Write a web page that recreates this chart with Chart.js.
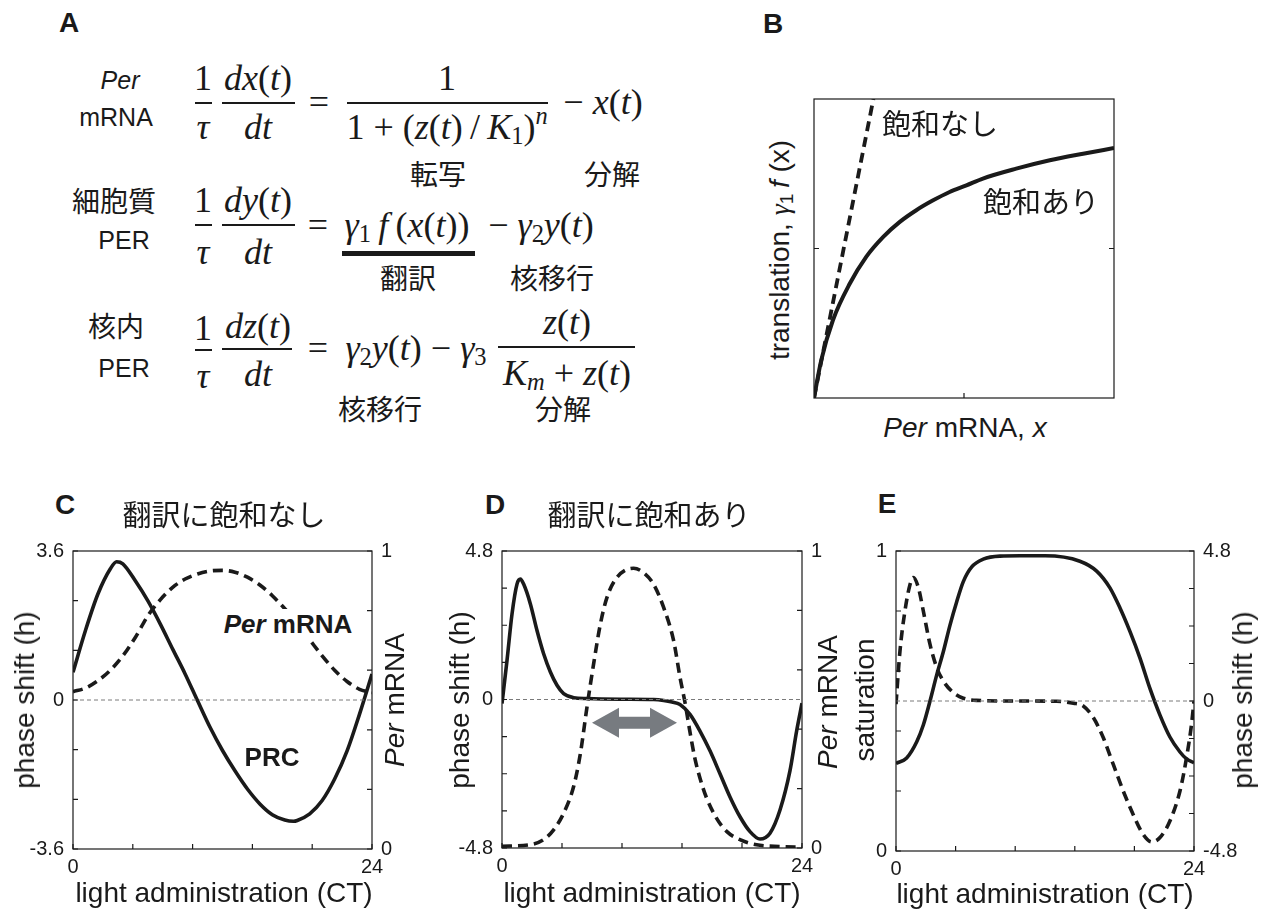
<!DOCTYPE html>
<html>
<head>
<meta charset="utf-8">
<script src="https://cdn.jsdelivr.net/npm/chart.js@4.4.1/dist/chart.umd.min.js"></script>
<style>
  body { margin: 0; background: #fff; }
  #page { position: relative; width: 1261px; height: 913px; overflow: hidden;
          font-family: "Liberation Sans", Arial, sans-serif; color: #1a1a1a; }
  .t { position: absolute; white-space: nowrap; line-height: 1; transform: translate(-50%, -50%); }
  .v { transform: translate(-50%, -50%) rotate(-90deg); }
  .jp { font-family: "Noto Sans CJK JP", sans-serif; font-size: 28px; }
  .hd { font-family: "Noto Sans CJK JP", sans-serif; font-size: 29px; }
  .m { font-family: "Liberation Serif", "Times New Roman", serif; font-size: 36px; }
  .lb { font-size: 25px; }
  .ax { font-size: 28px; }
  .pn { font-weight: bold; font-size: 28px; }
  .tag { font-weight: bold; font-size: 26px; }
  .sub { font-size: .68em; vertical-align: -.22em; line-height: 0; }
  .sup { font-size: .68em; vertical-align: .6em; line-height: 0; }
  .bar { position: absolute; background: #1a1a1a; }
  canvas { position: absolute; }
</style>
</head>
<body>
<div id="page">
  <canvas id="chartB" width="316" height="315" style="left:806px;top:91px"></canvas>
  <canvas id="chartC" width="420" height="370" style="left:0px;top:530px"></canvas>
  <canvas id="chartD" width="420" height="370" style="left:420px;top:530px"></canvas>
  <canvas id="chartE" width="421" height="370" style="left:840px;top:530px"></canvas>
</div>
<script>
// ---- B: translation vs Per mRNA
const bMrna = [0, 0.024, 0.063, 0.119, 0.174, 0.230, 0.286, 0.341, 0.397, 0.452, 0.508, 0.563, 0.674, 0.786, 0.897, 1];
const bSaturated = [0, 0.126, 0.260, 0.382, 0.472, 0.538, 0.589, 0.628, 0.661, 0.689, 0.711, 0.734, 0.767, 0.795, 0.817, 0.836];
const bLinearX = [0, 0.198];
const bLinearY = [0, 1];

// ---- C: no saturation
const cPrcHours = [0, 1, 2, 3, 3.5, 4, 5, 6, 7, 8, 9, 10, 11, 12, 13, 14, 15, 16, 17, 17.7, 18, 19, 20, 21, 22, 23, 24];
const cPrc = [0.67, 1.68, 2.56, 3.17, 3.34, 3.29, 2.88, 2.40, 1.84, 1.23, 0.63, -0.02, -0.66, -1.22, -1.71, -2.15, -2.51, -2.77, -2.90, -2.93, -2.91, -2.75, -2.43, -1.91, -1.23, -0.34, 0.63];
const cMrnaHours = [0, 1, 2, 3, 4, 5, 6, 7, 8, 9, 10, 11, 12, 13, 14, 15, 16, 17, 18, 19, 20, 21, 22, 23, 24];
const cMrna = [0.528, 0.540, 0.565, 0.600, 0.648, 0.710, 0.782, 0.836, 0.878, 0.906, 0.923, 0.933, 0.935, 0.929, 0.912, 0.886, 0.850, 0.806, 0.756, 0.702, 0.648, 0.600, 0.562, 0.536, 0.525];

// ---- D: with saturation
const dPrcHours = [0, 0.4, 0.8, 1.2, 1.47, 1.73, 2.27, 2.8, 3.33, 3.87, 4.4, 4.93, 5.73, 6.8, 9.47, 12.13, 12.93, 13.6, 14.24, 15.04, 15.84, 16.64, 17.44, 18.24, 19.04, 19.84, 20.64, 21.44, 22.24, 23.04, 23.57, 24];
const dPrc = [-0.13, 1.26, 2.76, 3.73, 3.89, 3.73, 3.09, 2.23, 1.48, 0.89, 0.46, 0.19, 0.06, 0.03, 0.01, 0, -0.03, -0.08, -0.16, -0.48, -1.02, -1.66, -2.4, -3.15, -3.79, -4.27, -4.51, -4.32, -3.57, -2.3, -1.02, -0.12];
const dMrnaHours = [0, 2.27, 3.33, 4.13, 4.93, 5.73, 6.27, 6.8, 7.33, 7.87, 8.4, 9.2, 10.53, 11.33, 12.13, 12.93, 13.73, 14.24, 14.64, 15.04, 15.44, 15.84, 16.37, 17.17, 17.97, 19.04, 20.37, 22.24, 24];
const dMrna = [0.006, 0.011, 0.028, 0.061, 0.117, 0.207, 0.318, 0.475, 0.620, 0.754, 0.844, 0.911, 0.942, 0.927, 0.888, 0.810, 0.698, 0.575, 0.490, 0.390, 0.300, 0.235, 0.168, 0.100, 0.056, 0.028, 0.011, 0.005, 0.003];
const dArrow = { from: 7.2, to: 14.0, y: -0.75 };

// ---- E: saturation level and PRC
const eSatHours = [0, 0.86, 1.67, 2.2, 2.74, 3.28, 3.81, 4.35, 4.89, 5.42, 6.1, 7.03, 8.37, 9.98, 12, 14.81, 16.16, 17.23, 18.04, 18.84, 19.65, 20.45, 21.26, 22.06, 22.87, 23.4, 24];
const eSat = [0.292, 0.31, 0.364, 0.42, 0.5, 0.587, 0.664, 0.753, 0.831, 0.898, 0.947, 0.973, 0.983, 0.984, 0.984, 0.966, 0.933, 0.877, 0.81, 0.732, 0.643, 0.542, 0.453, 0.38, 0.33, 0.307, 0.294];
const ePrcHours = [0, 0.32, 0.72, 1.13, 1.39, 1.8, 2.2, 2.74, 3.28, 3.81, 4.61, 5.42, 6.5, 9.5, 12.95, 14.29, 15.08, 15.89, 16.69, 17.5, 18.3, 19.1, 19.91, 20.59, 21.26, 22.06, 22.87, 23.4, 23.8, 24];
const ePrc = [-0.1, 1.6, 2.88, 3.73, 3.95, 3.63, 2.88, 1.81, 1.07, 0.64, 0.27, 0.09, 0.02, 0, -0.01, -0.07, -0.16, -0.53, -1.17, -2.03, -2.88, -3.63, -4.27, -4.51, -4.37, -3.84, -2.88, -1.81, -0.75, 0];

// ---- ticks
const hourTicks = [0, 4.8, 9.6, 14.4, 19.2, 24];
const hourLabels = [0, 24];
const shift36Ticks = [-3.6, -2.4, -1.2, 0, 1.2, 2.4, 3.6];
const shift36Labels = [-3.6, 0, 3.6];
const shift48Ticks = [-4.8, -3.6, -2.4, -1.2, 0, 1.2, 2.4, 3.6, 4.8];
const shift48Labels = [-4.8, 0, 4.8];
const unitTicks = [0, 0.2, 0.4, 0.6, 0.8, 1];
const unitLabels = [0, 1];

const INK = "#1a1a1a";
const TICK_FONT = { family: "Liberation Sans", size: 20 };

// frame box with inward tick marks
const framePlugin = {
  id: "frame",
  afterDatasetsDraw(chart, args, opts) {
    const { ctx, chartArea: a, scales } = chart;
    const len = 5;
    ctx.save();
    ctx.strokeStyle = INK;
    ctx.lineWidth = 1.2;
    ctx.setLineDash([]);
    ctx.strokeRect(a.left, a.top, a.right - a.left, a.bottom - a.top);
    ctx.beginPath();
    (opts.x || []).forEach((v) => {
      const px = scales.x.getPixelForValue(v);
      ctx.moveTo(px, a.bottom);
      ctx.lineTo(px, a.bottom - len);
    });
    (opts.y || []).forEach((v) => {
      const py = scales.y.getPixelForValue(v);
      ctx.moveTo(a.left, py);
      ctx.lineTo(a.left + len, py);
      if (opts.mirror) {
        ctx.moveTo(a.right, py);
        ctx.lineTo(a.right - len, py);
      }
    });
    (opts.y2 || []).forEach((v) => {
      const py = scales.y2.getPixelForValue(v);
      ctx.moveTo(a.right, py);
      ctx.lineTo(a.right - len, py);
    });
    ctx.stroke();
    ctx.restore();
  },
};

// grey double-headed arrow (panel D)
const arrowPlugin = {
  id: "arrow",
  afterDatasetsDraw(chart, args, opts) {
    if (opts.from === undefined) return;
    const { ctx, scales } = chart;
    const x1 = scales.x.getPixelForValue(opts.from);
    const x2 = scales.x.getPixelForValue(opts.to);
    const y = scales.y.getPixelForValue(opts.y);
    const head = 27, hh = 15, sh = 6;
    ctx.save();
    ctx.fillStyle = "#777b80";
    ctx.beginPath();
    ctx.moveTo(x1, y);
    ctx.lineTo(x1 + head, y - hh);
    ctx.lineTo(x1 + head, y - sh);
    ctx.lineTo(x2 - head, y - sh);
    ctx.lineTo(x2 - head, y - hh);
    ctx.lineTo(x2, y);
    ctx.lineTo(x2 - head, y + hh);
    ctx.lineTo(x2 - head, y + sh);
    ctx.lineTo(x1 + head, y + sh);
    ctx.lineTo(x1 + head, y + hh);
    ctx.closePath();
    ctx.fill();
    ctx.restore();
  },
};

function series(xs, ys, axis, dashed, width) {
  return {
    data: xs.map((x, i) => ({ x: x, y: ys[i] })),
    yAxisID: axis,
    borderColor: INK,
    borderWidth: width || 3.6,
    borderDash: dashed ? [10, 6] : [],
    pointRadius: 0,
    fill: false,
    cubicInterpolationMode: "monotone",
  };
}

function zeroLine(axis, level) {
  return {
    data: [{ x: 0, y: level }, { x: 24, y: level }],
    yAxisID: axis,
    borderColor: "#7a7a7a",
    borderWidth: 1,
    borderDash: [4, 3],
    pointRadius: 0,
  };
}

function axisX(labels, height) {
  return {
    type: "linear", position: "bottom", min: 0, max: 24,
    afterBuildTicks: (s) => { s.ticks = labels.map((v) => ({ value: v })); },
    afterFit: (s) => { s.height = height; },
    ticks: { callback: (v) => String(v), font: TICK_FONT, color: INK, padding: 6, autoSkip: false, maxRotation: 0 },
    grid: { display: false, drawTicks: false },
    border: { display: false },
  };
}

function axisY(pos, min, max, labels, width) {
  return {
    type: "linear", position: pos, min: min, max: max,
    afterBuildTicks: (s) => { s.ticks = labels.map((v) => ({ value: v })); },
    afterFit: (s) => { s.width = width; },
    ticks: { callback: (v) => String(v), font: TICK_FONT, color: INK, padding: 9, autoSkip: false },
    grid: { display: false, drawTicks: false },
    border: { display: false },
  };
}

const common = {
  responsive: false,
  animation: false,
  events: [],
};

new Chart(document.getElementById("chartB"), {
  type: "line",
  data: {
    datasets: [
      series(bLinearX, bLinearY, "y", true, 3.8),
      series(bMrna, bSaturated, "y", false, 4),
    ],
  },
  options: {
    ...common,
    layout: { padding: 8 },
    scales: {
      x: { type: "linear", min: 0, max: 1, display: false },
      y: { type: "linear", min: 0, max: 1, display: false },
    },
    plugins: { legend: { display: false }, tooltip: { enabled: false },
      frame: { x: [0.5], y: [0.5], mirror: true } },
  },
  plugins: [framePlugin],
});

new Chart(document.getElementById("chartC"), {
  type: "line",
  data: {
    datasets: [
      zeroLine("y", 0),
      series(cMrnaHours, cMrna, "y2", true),
      series(cPrcHours, cPrc, "y", false),
    ],
  },
  options: {
    ...common,
    layout: { padding: { top: 21, left: 0, right: 0, bottom: 0 } },
    scales: {
      x: axisX(hourLabels, 51),
      y: axisY("left", -3.6, 3.6, shift36Labels, 73),
      y2: axisY("right", 0, 1, unitLabels, 48),
    },
    plugins: { legend: { display: false }, tooltip: { enabled: false },
      frame: { x: hourTicks, y: shift36Ticks, y2: unitTicks } },
  },
  plugins: [framePlugin],
});

new Chart(document.getElementById("chartD"), {
  type: "line",
  data: {
    datasets: [
      zeroLine("y", 0),
      series(dMrnaHours, dMrna, "y2", true),
      series(dPrcHours, dPrc, "y", false),
    ],
  },
  options: {
    ...common,
    layout: { padding: { top: 20, left: 0, right: 0, bottom: 0 } },
    scales: {
      x: axisX(hourLabels, 52),
      y: axisY("left", -4.8, 4.8, shift48Labels, 82),
      y2: axisY("right", 0, 1, unitLabels, 38),
    },
    plugins: { legend: { display: false }, tooltip: { enabled: false },
      frame: { x: hourTicks, y: shift48Ticks, y2: unitTicks },
      arrow: dArrow },
  },
  plugins: [framePlugin, arrowPlugin],
});

new Chart(document.getElementById("chartE"), {
  type: "line",
  data: {
    datasets: [
      zeroLine("y2", 0),
      series(ePrcHours, ePrc, "y2", true),
      series(eSatHours, eSat, "y", false),
    ],
  },
  options: {
    ...common,
    layout: { padding: { top: 21, left: 0, right: 0, bottom: 0 } },
    scales: {
      x: axisX(hourLabels, 49),
      y: axisY("left", 0, 1, unitLabels, 56),
      y2: axisY("right", -4.8, 4.8, shift48Labels, 67),
    },
    plugins: { legend: { display: false }, tooltip: { enabled: false },
      frame: { x: hourTicks, y: unitTicks, y2: shift48Ticks } },
  },
  plugins: [framePlugin],
});

// ---- text layer
const page = document.getElementById("page");
function put(html, x, y, cls, style) {
  const el = document.createElement("div");
  el.className = "t " + (cls || "");
  el.innerHTML = html;
  el.style.left = x + "px";
  el.style.top = y + "px";
  if (style) Object.assign(el.style, style);
  page.appendChild(el);
}
function rule(x1, x2, y, h) {
  const el = document.createElement("div");
  el.className = "bar";
  el.style.left = x1 + "px";
  el.style.width = (x2 - x1) + "px";
  el.style.top = (y - h / 2) + "px";
  el.style.height = h + "px";
  page.appendChild(el);
}

// panel letters
put("A", 69, 23, "pn");
put("B", 773, 24, "pn");
put("C", 65, 505, "pn");
put("D", 495, 505, "pn");
put("E", 887, 504, "pn");

// panel A: equations
put("<i>Per</i>", 120, 80, "lb");
put("mRNA", 116, 117, "lb");
put("1", 203, 78, "m"); rule(195, 212, 103, 2.5); put("<i>τ</i>", 203, 127, "m");
put("<i>dx</i>(<i>t</i>)", 258, 78, "m"); rule(222, 295, 103, 2.5); put("<i>dt</i>", 258, 127, "m");
put("=", 319, 102, "m");
put("1", 447, 78, "m"); rule(347, 548, 103, 2.5);
put("1&nbsp;+&nbsp;(<i>z</i>(<i>t</i>)&thinsp;/&thinsp;<i>K</i><span class=\"sub\">1</span>)<span class=\"sup\"><i>n</i></span>", 447, 127, "m");
put("− <i>x</i>(<i>t</i>)", 603, 102, "m");
put("転写", 438, 173, "jp");
put("分解", 612, 173, "jp");

put("細胞質", 114, 200, "jp");
put("PER", 124, 240, "lb");
put("1", 203, 200, "m"); rule(195, 212, 225, 2.5); put("<i>τ</i>", 203, 252, "m");
put("<i>dy</i>(<i>t</i>)", 258, 200, "m"); rule(222, 295, 225, 2.5); put("<i>dt</i>", 258, 252, "m");
put("=", 318, 225, "m");
put("<i>γ</i><span class=\"sub\">1</span>&thinsp;<i>f</i>&thinsp;(<i>x</i>(<i>t</i>))", 407, 225, "m");
rule(342, 475, 253, 5);
put("− <i>γ</i><span class=\"sub\">2</span><i>y</i>(<i>t</i>)", 541, 225, "m");
put("翻訳", 408, 277, "jp");
put("核移行", 552, 277, "jp");

put("核内", 116, 325, "jp");
put("PER", 124, 368, "lb");
put("1", 203, 328, "m"); rule(195, 212, 350, 2.5); put("<i>τ</i>", 203, 376, "m");
put("<i>dz</i>(<i>t</i>)", 258, 326, "m"); rule(222, 292, 349, 2.5); put("<i>dt</i>", 258, 374, "m");
put("=", 318, 348, "m");
put("<i>γ</i><span class=\"sub\">2</span><i>y</i>(<i>t</i>)&nbsp;−&nbsp;<i>γ</i><span class=\"sub\">3</span>", 416, 348, "m");
put("<i>z</i>(<i>t</i>)", 567, 322, "m"); rule(498, 635, 347, 2.5);
put("<i>K</i><span class=\"sub\"><i>m</i></span>&nbsp;+&nbsp;<i>z</i>(<i>t</i>)", 567, 373, "m");
put("核移行", 380, 408, "jp");
put("分解", 563, 408, "jp");

// panel B labels
put("飽和なし", 940, 122, "hd");
put("飽和あり", 1041, 200, "hd");
put("translation, <span style=\"font-family:'Liberation Serif',serif;font-style:italic\">γ</span><span class=\"sub\">1</span>&thinsp;<i>f</i> (x)", 780, 250, "ax v");
put("<i>Per</i> mRNA, <i>x</i>", 965, 428, "ax");

// panel C labels
put("翻訳に飽和なし", 224, 513, "hd");
put("phase shift (h)", 25, 700, "ax v");
put("<i>Per</i> mRNA", 395, 700, "ax v");
put("light administration (CT)", 224, 893, "ax");
put("<i>Per</i> mRNA", 288, 624, "tag", { background: "#fff", padding: "2px 4px" });
put("PRC", 272, 757, "tag");

// panel D labels
put("翻訳に飽和あり", 649, 513, "hd");
put("phase shift (h)", 460, 700, "ax v");
put("<i>Per</i> mRNA", 828, 702, "ax v");
put("light administration (CT)", 652, 893, "ax");

// panel E labels
put("saturation", 865, 700, "ax v");
put("phase shift (h)", 1243, 700, "ax v");
put("light administration (CT)", 1045, 894, "ax");
</script>
</body>
</html>
